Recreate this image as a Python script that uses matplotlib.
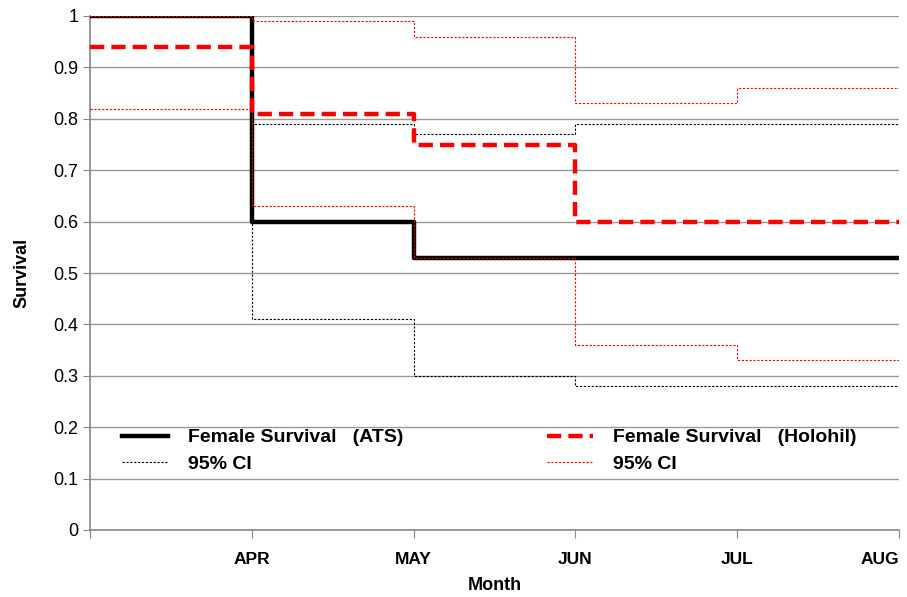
import matplotlib
matplotlib.use("Agg")
import matplotlib.pyplot as plt

plt.rcParams['font.family'] = ['Liberation Sans', 'DejaVu Sans']

# month boundaries (0 = start of MAR), labels at tick positions
months = [0, 1, 2, 3, 4, 5]
month_labels = ['', 'APR', 'MAY', 'JUN', 'JUL', 'AUG']

# survival per monthly interval (5 intervals)
ats = [1.00, 0.60, 0.53, 0.53, 0.53]
ats_hi = [1.00, 0.79, 0.77, 0.79, 0.79]
ats_lo = [1.00, 0.41, 0.30, 0.28, 0.28]

holo = [0.94, 0.81, 0.75, 0.60, 0.60]
holo_hi = [1.00, 0.99, 0.96, 0.83, 0.86]
holo_lo = [0.82, 0.63, 0.53, 0.36, 0.33]


def ext(v):
    return v + [v[-1]]


fig = plt.figure(figsize=(9.07, 5.97), dpi=100)
ax = fig.add_axes([90 / 907, 67 / 597, 809 / 907, 514 / 597])

l1, = ax.step(months, ext(ats), where='post', color='black', lw=3.2, zorder=3)
l2, = ax.step(months, ext(ats_hi), where='post', color='black', lw=0.8,
              ls=(0, (2, 1.5)), zorder=4)
ax.step(months, ext(ats_lo), where='post', color='black', lw=0.8,
        ls=(0, (2, 1.5)), zorder=4)
l3, = ax.step(months, ext(holo), where='post', color='#ff0000', lw=3.2,
              ls=(0, (3.2, 1.6)), zorder=5)
l4, = ax.step(months, ext(holo_hi), where='post', color='#ff0000', lw=0.8,
              ls=(0, (2, 1.5)), zorder=6)
ax.step(months, ext(holo_lo), where='post', color='#ff0000', lw=0.8,
        ls=(0, (2, 1.5)), zorder=6)

ax.set_xlim(0, 5)
ax.set_ylim(0, 1)
ax.set_yticks([i / 10 for i in range(11)])
ax.set_yticklabels(['0'] + ['%.1f' % (i / 10) for i in range(1, 10)] + ['1'],
                   fontsize=13)
ax.set_xticks(months)
ax.set_xticklabels(month_labels, fontsize=12.5, fontweight='bold')
ax.get_xticklabels()[-1].set_horizontalalignment('right')
ax.tick_params(axis='x', length=6, color='#888888', pad=10)
ax.tick_params(axis='y', length=5, color='#888888')
ax.grid(axis='y', color='#999999', lw=1)
ax.set_axisbelow(True)
for s in ['top', 'right']:
    ax.spines[s].set_visible(False)
for s in ['left', 'bottom']:
    ax.spines[s].set_color('#888888')
    ax.spines[s].set_linewidth(1.2)

ax.set_xlabel('Month', fontsize=13, fontweight='bold', labelpad=7)
ax.set_ylabel('Survival', fontsize=13, fontweight='bold', labelpad=16)

leg_kw = dict(loc='upper left', frameon=False, borderpad=0, borderaxespad=0,
              prop={'size': 14, 'weight': 'bold'}, handlelength=2.37,
              handletextpad=1.0, labelspacing=0.45)
leg1 = ax.legend([l1, l2], ['Female Survival   (ATS)', '95% CI'],
                 bbox_to_anchor=(0.0396, 0.197), **leg_kw)
ax.add_artist(leg1)
ax.legend([l3, l4], ['Female Survival   (Holohil)', '95% CI'],
          bbox_to_anchor=(0.565, 0.197), **leg_kw)

fig.savefig('out.png', dpi=100)
